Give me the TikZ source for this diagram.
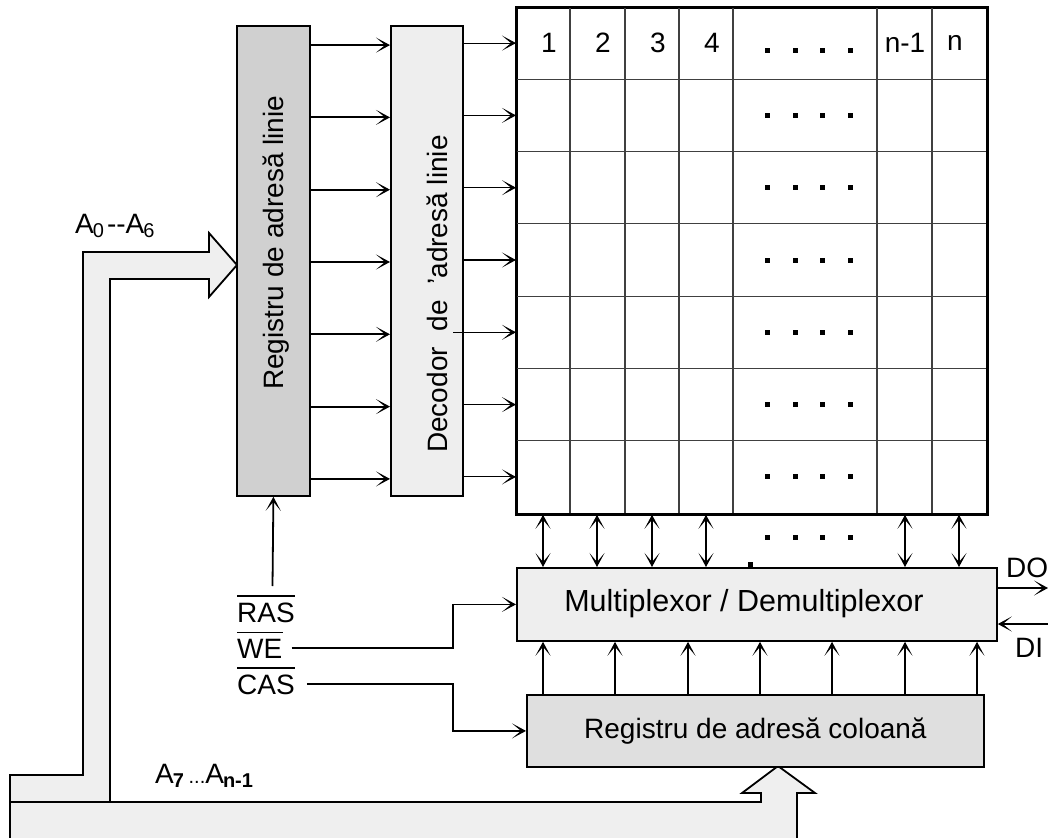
\documentclass[tikz,border=0pt]{standalone}
\usepackage{fontspec}
\setmainfont{Liberation Sans}
\usetikzlibrary{arrows.meta,calc}
\definecolor{reggray}{HTML}{D0D0D0}
\definecolor{lightbox}{HTML}{EEEEEE}
\definecolor{colgray}{HTML}{DFDFDF}
\definecolor{busgray}{HTML}{EFEFEF}
\newcommand{\sbs}[1]{\kern-1pt\raisebox{-4pt}{\fontsize{20}{20}\selectfont #1}}
\begin{document}
\begin{tikzpicture}[x=1pt,y=-1pt,
  box/.style={draw, line width=1.8pt, inner sep=0pt, anchor=north west},
  lbl/.style={font=\fontsize{28}{30}\selectfont, inner sep=0pt},
  gridline/.style={line width=1.1pt, black!75},
  tharr/.style={line width=1.8pt, -{Stealth[length=14pt,width=15pt,inset=9pt]}},
  tnarr/.style={line width=1.1pt, -{Stealth[length=14pt,width=15pt,inset=9pt]}},
  biarr/.style={line width=1.1pt, {Stealth[length=14pt,width=15pt,inset=9pt]}-{Stealth[length=14pt,width=15pt,inset=9pt]}},
  thline/.style={line width=1.8pt},
  bus/.style={draw, line width=1.8pt, fill=busgray, line join=miter},
]
\useasboundingbox (0,0) rectangle (1048,837);
\clip (0,0) rectangle (1048,837);

% buses
\filldraw[bus] (10,850) -- (10,802) -- (761,802) -- (761,793) -- (742,793) -- (778,766) -- (815,793) -- (797,793) -- (797,850) -- cycle;
\filldraw[bus] (10,802) -- (10,775) -- (83,775) -- (83,252) -- (209,252) -- (209,233) -- (237,265) -- (209,297) -- (209,279) -- (110,279) -- (110,802) -- cycle;

% boxes
\node[box, fill=reggray, minimum width=73pt, minimum height=470pt] (reg) at (236,25) {};
\node[box, fill=lightbox, minimum width=72pt, minimum height=470pt] (dec) at (390,25) {};
\node[box, minimum width=470pt, minimum height=506pt] (grid) at (516,7) {};
\node[box, fill=lightbox, minimum width=480pt, minimum height=73pt] (mux) at (516,567) {};
\node[box, fill=colgray, minimum width=457pt, minimum height=72pt] (colreg) at (526,694) {};

% grid lines
\foreach \x in {570,625,679,733,877,932} \draw[gridline] (\x,7) -- (\x,513);
\foreach \k in {1,...,6} \draw[gridline] (516,{7+72.2857*\k}) -- (986,{7+72.2857*\k});
\draw[line width=1.8pt] (grid.north west) rectangle (grid.south east);

% labels in boxes
\node[lbl, rotate=90, anchor=base west] (reglbl) at (283,390) {Registru de adresă linie};
\node[lbl, rotate=90, anchor=base west] (declbl) at (447,453) {Decodor\ \ de\ \ {\char39}adresă linie};
\node[lbl, font=\fontsize{30.5}{32}\selectfont] (muxlbl) at (744,604) {Multiplexor / Demultiplexor};
\node[lbl] (collbl) at (colreg.center) {Registru de adresă coloană};

% column header
\foreach \t/\x in {1/549,2/603,3/658,4/712} \node[lbl] (c\t) at (\x,43) {\t};
\node[lbl] (cnm) at (905,43) {n-1};
\node[lbl] (cn) at (955,43) {n};

% dots
\foreach \y in {51,115.4,187.7,260,332.3,404.6,476.9,537}
  \foreach \x in {767,795,822,850} \fill (\x-2.5,\y-2.5) rectangle ++(5,5);
\fill (747.5,561.5) rectangle ++(5,5);

% row coordinates
\foreach \y [count=\k] in {43.1,115.4,187.7,260,332.3,404.6,476.9} {
  \coordinate (r\k) at (0,\y);
  \coordinate (s\k) at (0,\y+2);
}
\foreach \k in {1,...,7} \draw[tharr] (reg.east |- s\k) -- (dec.west |- s\k);
\foreach \k in {1,2,3,4,6,7} \draw[tnarr] (dec.east |- r\k) -- (grid.west |- r\k);
\coordinate (decin5) at (453,332.3);
\draw[tnarr] (decin5) -- (grid.west |- r5);

% grid <-> mux
\foreach \x [count=\k] in {543,597,652,706,905,959} {
  \coordinate (col\k) at (\x,0);
  \draw[biarr] (grid.south -| col\k) -- (mux.north -| col\k);
}
% colreg -> mux
\foreach \x [count=\k] in {543,615,688,760,832,905,977} {
  \coordinate (m\k) at (\x,0);
  \draw[tharr] (colreg.north -| m\k) -- (mux.south -| m\k);
}

% control signals
\node[lbl, anchor=base west] (ras) at (237,622) {RAS};
\node[lbl, anchor=base west] (we) at (237,658) {WE};
\node[lbl, anchor=base west] (cas) at (237,694) {CAS};
\foreach \n in {ras,we,cas} \draw[thline] ([yshift=6pt]\n.north west) -- ([yshift=6pt]\n.north east);
\coordinate (rasup) at (272.5,586);
\draw[tharr] (rasup) -- (reg.south);
\coordinate (wek) at (453,0);
\draw[tharr] ([xshift=9pt]we.east) -| (wek |- mux.west) -- (mux.west);
\draw[tharr] ([xshift=12pt]cas.east) -| (wek |- colreg.west) -- (colreg.west);

% DO / DI
\coordinate (doend) at (1048,588);
\coordinate (distart) at (1048,624);
\draw[tharr] (mux.east |- doend) -- (doend);
\draw[tharr] (distart) -- (mux.east |- distart);
\node[lbl, anchor=base west] (dolbl) at (1006,577) {DO};
\node[lbl, anchor=base west] (dilbl) at (1015,657) {DI};

% bus labels
\node[lbl, anchor=base west] (alow) at (75,233) {A\sbs{0}\kern3pt{-}{-}A\sbs{6}};
\node[lbl, anchor=base west] (ahigh) at (155,783) {A\sbs{\textbf{7}}\,{\fontsize{20}{20}\selectfont ...}A\sbs{\textbf{n-1}}};
\end{tikzpicture}
\end{document}
